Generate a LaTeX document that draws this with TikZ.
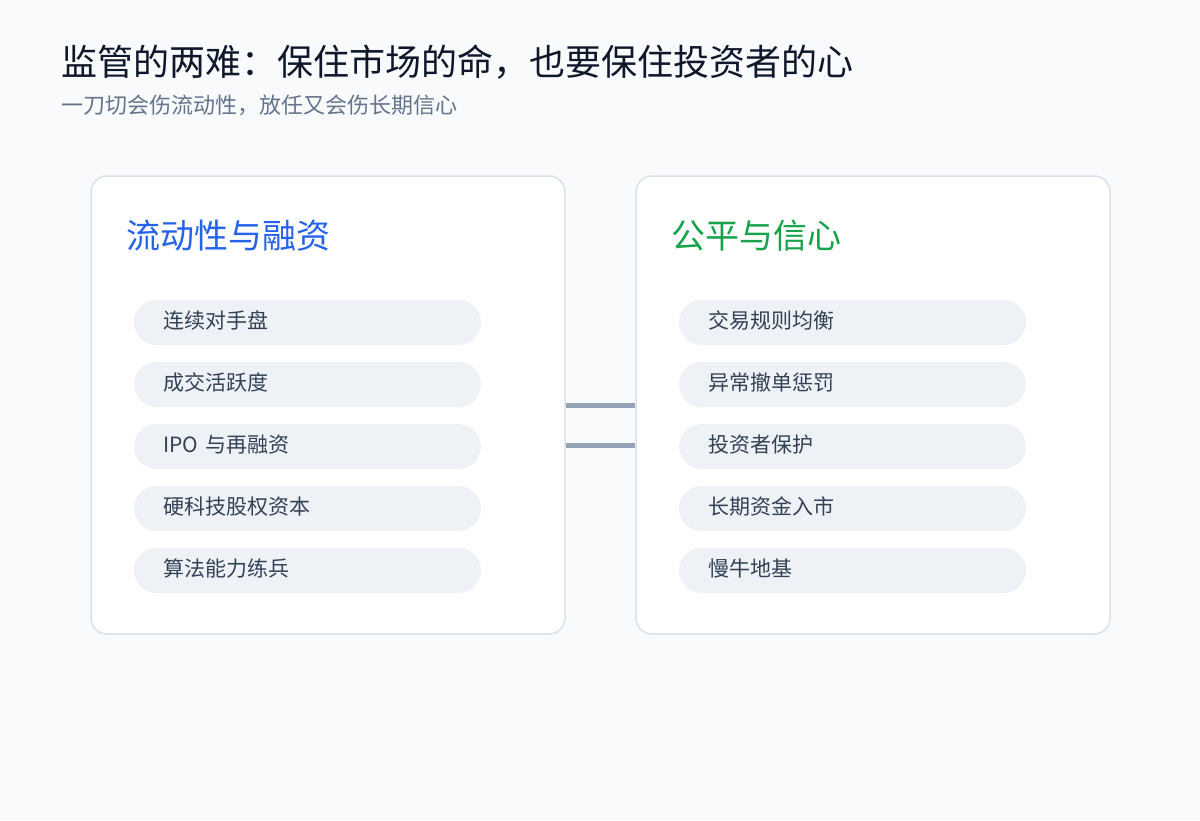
\documentclass[tikz,border=0pt]{standalone}
\usepackage{fontspec}
\setmainfont{Noto Sans CJK SC}
\usetikzlibrary{positioning}

\definecolor{pagebg}{HTML}{F8FAFC}
\definecolor{titleink}{HTML}{0F172A}
\definecolor{subink}{HTML}{64748B}
\definecolor{cardline}{HTML}{DAE2EC}
\definecolor{pillfill}{HTML}{EEF2F7}
\definecolor{pillink}{HTML}{334155}
\definecolor{linkgray}{HTML}{94A3B8}
\definecolor{headblue}{HTML}{2563EB}
\definecolor{headgreen}{HTML}{16A34A}

\tikzset{
	card/.style={draw=cardline, line width=1.5pt, fill=white, rounded corners=16pt,
		minimum width=474pt, minimum height=458pt},
	pill/.style={fill=pillfill, rounded corners=22.5pt, minimum width=347pt, minimum height=45pt,
		text width=289pt, inner xsep=29pt, align=left, text=pillink,
		text height=17pt, text depth=5pt,
		font=\fontsize{21}{24}\selectfont},
	cardhead/.style={anchor=west, font=\fontsize{34}{38}\selectfont},
	bridge/.style={draw=linkgray, line width=5pt}
}

\begin{document}
\begin{tikzpicture}[x=1pt, y=-1pt]
	\fill[pagebg] (0,0) rectangle (1200,820);
	\node[anchor=west, inner sep=0pt, text=titleink, font=\fontsize{36}{40}\selectfont] (title) at (61,62)
		{监管的两难：保住市场的命，也要保住投资者的心};
	\node[anchor=west, inner sep=0pt, text=subink, font=\fontsize{22}{26}\selectfont] (subtitle) at (61,105)
		{一刀切会伤流动性，放任又会伤长期信心};
	
	\node[card] (liq) at (328,405) {};
	\node[card] (fair) at (873,405) {};
	\node[cardhead, text=headblue, inner sep=0pt] (liqhead) at (126,236) {流动性与融资};
	\node[cardhead, text=headgreen, inner sep=0pt] (fairhead) at (671,236) {公平与信心};
	
	\foreach \row/\ltext/\rtext in {0/连续对手盘/交易规则均衡, 1/成交活跃度/异常撤单惩罚,
			2/IPO 与再融资/投资者保护, 3/硬科技股权资本/长期资金入市, 4/算法能力练兵/慢牛地基} {
		\pgfmathsetmacro{\yc}{322.5+62*\row}
		\node[pill] (lp\row) at (307.5,\yc) {\ltext};
		\node[pill] (rp\row) at (852.5,\yc) {\rtext};
	}
	
	\draw[bridge] (liq.east) -- (fair.west);
	\draw[bridge] ([yshift=-40pt]liq.east) -- ([yshift=-40pt]fair.west);
\end{tikzpicture}
\end{document}
